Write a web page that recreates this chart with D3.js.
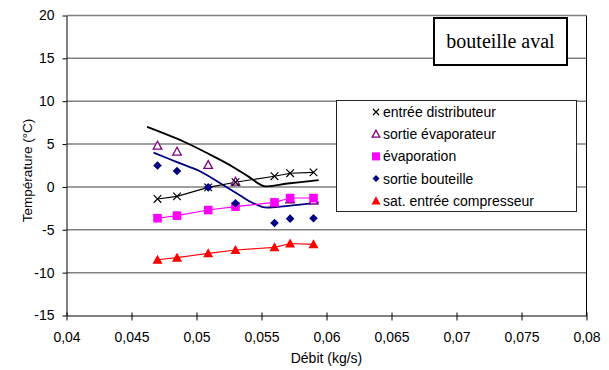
<!DOCTYPE html>
<html>
<head>
<meta charset="utf-8">
<script src="https://cdn.jsdelivr.net/npm/d3@7"></script>
<style>
  html, body { margin: 0; padding: 0; background: #fff; }
  svg { display: block; font-family: "Liberation Sans", Arial, sans-serif; }
</style>
</head>
<body>
<svg id="chart" width="609" height="370"></svg>
<script>
// Mass flow rates (kg/s) of the measured operating points
const debit = [0.047, 0.0485, 0.0509, 0.053, 0.056, 0.0572, 0.059];

// Measured temperatures (°C)
const entreeDistributeur = [-1.4, -1.1, -0.05, 0.55, 1.25, 1.6, 1.7];
const sortieEvaporateur = [4.8, 4.1, 2.55, 0.6, -1.9, -1.45, -1.6];
const evaporation = [-3.65, -3.35, -2.7, -2.3, -1.8, -1.3, -1.3];
const sortieBouteille = [2.5, 1.85, -0.05, -1.9, -4.2, -3.7, -3.65];
const satEntreeCompresseur = [-8.5, -8.25, -7.75, -7.35, -7.05, -6.6, -6.7];

// Model curves (no markers)
const modeleSortieX = [0.0462, 0.0490, 0.0510, 0.0525, 0.0540, 0.0552, 0.0570, 0.0594];
const modeleSortieY = [7.0, 5.3, 3.8, 2.6, 1.2, 0.1, 0.4, 0.8];
const modeleBouteilleX = [0.0467, 0.0485, 0.0503, 0.0518, 0.0533, 0.0541, 0.0551, 0.0556, 0.0594];
const modeleBouteilleY = [4.0, 2.9, 1.8, 0.45, -0.95, -1.7, -2.35, -2.4, -1.8];

// Axis ticks
const xTicks = [0.04, 0.045, 0.05, 0.055, 0.06, 0.065, 0.07, 0.075, 0.08];
const yTicks = [-15, -10, -5, 0, 5, 10, 15, 20];

const legendLabels = ["entrée distributeur", "sortie évaporateur", "évaporation", "sortie bouteille", "sat. entrée compresseur"];

const svg = d3.select("#chart");
const plot = { left: 66.5, right: 586.5, top: 15.5, bottom: 315.5 };

const x = d3.scaleLinear().domain([0.04, 0.08]).range([plot.left, plot.right]);
const y = d3.scaleLinear().domain([-15, 20]).range([plot.bottom, plot.top]);

const fmt = d => d3.format(".3~f")(d).replace(".", ",");

// Horizontal gridlines
svg.append("g").selectAll("line").data(yTicks.filter(t => t > -15)).join("line")
  .attr("x1", plot.left).attr("x2", plot.right)
  .attr("y1", d => y(d)).attr("y2", d => y(d))
  .attr("stroke", "#808080").attr("stroke-width", 1.5);

// Right frame edge
svg.append("line").attr("x1", plot.right).attr("x2", plot.right)
  .attr("y1", plot.top).attr("y2", plot.bottom).attr("stroke", "#000").attr("stroke-width", 1);

// Axes
const xAxis = d3.axisBottom(x).tickValues(xTicks).tickFormat(fmt).tickSizeInner(4).tickSizeOuter(0).tickPadding(13);
const gx = svg.append("g").attr("transform", `translate(0,${plot.bottom})`).call(xAxis);
gx.selectAll("text").attr("font-size", 14).attr("fill", "#000").attr("font-family", "Liberation Sans, Arial, sans-serif");
gx.select(".domain").attr("stroke", "#000");
gx.selectAll(".tick line").attr("y1", -3).attr("y2", 5).attr("stroke", "#000");

const yAxis = d3.axisLeft(y).tickValues(yTicks).tickFormat(d => String(d)).tickSizeInner(4).tickSizeOuter(0).tickPadding(8);
const gy = svg.append("g").attr("transform", `translate(${plot.left},0)`).call(yAxis);
gy.selectAll("text").attr("font-size", 14).attr("fill", "#000").attr("font-family", "Liberation Sans, Arial, sans-serif");
gy.select(".domain").attr("stroke", "#000");

// Axis titles
svg.append("text").attr("x", (plot.left + plot.right) / 2).attr("y", 363)
  .attr("text-anchor", "middle").attr("font-size", 14).text("Débit (kg/s)");
svg.append("text").attr("transform", `translate(32,${(plot.top + plot.bottom) / 2 + 5}) rotate(-90)`)
  .attr("text-anchor", "middle").attr("font-size", 13.5).text("Température (°C)");

// Series lines
const line = d3.line().x(d => x(d[0])).y(d => y(d[1]));
const zip = (xs, ys) => xs.map((v, i) => [v, ys[i]]);

function drawLine(xs, ys, color, w, curve) {
  svg.append("path").datum(zip(xs, ys))
    .attr("d", line.curve(curve || d3.curveLinear))
    .attr("fill", "none").attr("stroke", color).attr("stroke-width", w);
}

drawLine(modeleSortieX, modeleSortieY, "#000", 1.8, d3.curveCatmullRom);
drawLine(modeleBouteilleX, modeleBouteilleY, "#000080", 1.8, d3.curveCatmullRom);
drawLine(debit, entreeDistributeur, "#000", 1.1);
drawLine(debit, evaporation, "#ff00ff", 1.1);
drawLine(debit, satEntreeCompresseur, "#ff0000", 1.1);

// Marker shapes
function marker(g, type, s) {
  if (type === "cross") {
    g.append("path").attr("d", `M${-s},${-s}L${s},${s}M${-s},${s}L${s},${-s}`)
      .attr("stroke", "#000").attr("stroke-width", 1.2).attr("fill", "none");
  } else if (type === "openTri") {
    g.append("path").attr("d", `M0,${-s}L${s * 0.95},${s * 0.75}L${-s * 0.95},${s * 0.75}Z`)
      .attr("stroke", "#800080").attr("stroke-width", 1.3).attr("fill", "#fff");
  } else if (type === "square") {
    g.append("rect").attr("x", -s).attr("y", -s).attr("width", 2 * s).attr("height", 2 * s)
      .attr("fill", "#ff00ff");
  } else if (type === "diamond") {
    g.append("path").attr("d", `M0,${-s}L${s},0L0,${s}L${-s},0Z`).attr("fill", "#000080");
  } else if (type === "redTri") {
    g.append("path").attr("d", `M0,${-s}L${s},${s * 0.8}L${-s},${s * 0.8}Z`).attr("fill", "#ff0000");
  }
}

function drawPoints(ys, type, s) {
  const g = svg.append("g");
  debit.forEach((d, i) => {
    const m = g.append("g").attr("transform", `translate(${x(d)},${y(ys[i])})`);
    marker(m, type, s);
  });
}

drawPoints(sortieEvaporateur, "openTri", 4.5);
drawPoints(entreeDistributeur, "cross", 3.8);
drawPoints(evaporation, "square", 4.3);
drawPoints(sortieBouteille, "diamond", 4.3);
drawPoints(satEntreeCompresseur, "redTri", 5);

// Legend
const lg = svg.append("g");
lg.append("rect").attr("x", 336.5).attr("y", 100.5).attr("width", 240).attr("height", 111)
  .attr("fill", "#fff").attr("stroke", "#222").attr("stroke-width", 1);
const legendTypes = [["cross", 3], ["openTri", 4], ["square", 4], ["diamond", 3.5], ["redTri", 4.5]];
legendLabels.forEach((lab, i) => {
  const cy = 112 + i * 22.2;
  const m = lg.append("g").attr("transform", `translate(376,${cy})`);
  marker(m, legendTypes[i][0], legendTypes[i][1]);
  lg.append("text").attr("x", 383).attr("y", cy + 5).attr("font-size", 14).text(lab);
});

// Title box
svg.append("rect").attr("x", 434).attr("y", 18).attr("width", 133).attr("height", 47)
  .attr("fill", "#fff").attr("stroke", "#000").attr("stroke-width", 2);
svg.append("text").attr("x", 500.5).attr("y", 48).attr("text-anchor", "middle")
  .attr("font-family", "Liberation Serif, Times New Roman, serif").attr("font-size", 20)
  .text("bouteille aval");
</script>
</body>
</html>
